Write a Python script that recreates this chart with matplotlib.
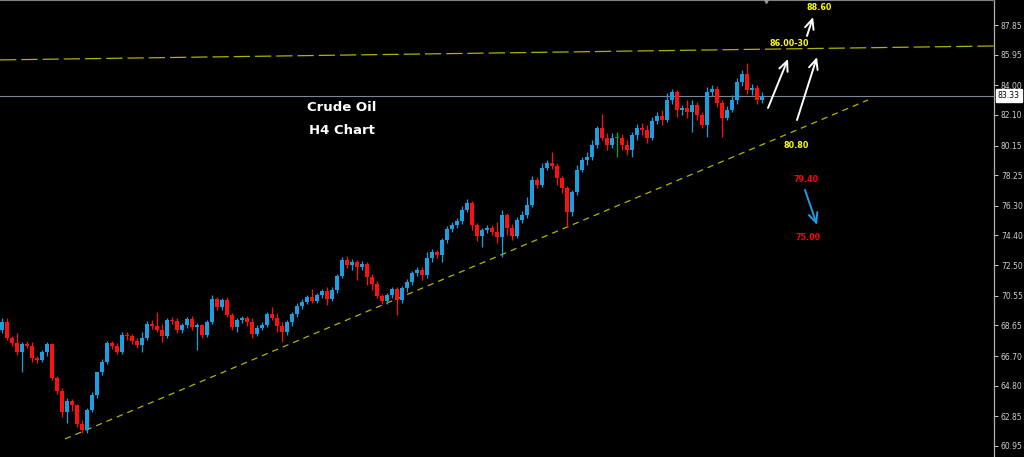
import matplotlib
matplotlib.use("Agg")
import matplotlib.pyplot as plt
import numpy as np

# ---- data: H4 candles (open, high, low, close) ----
opens = [68.36, 68.87, 67.85, 67.53, 66.96, 67.47, 67.34, 66.57, 66.45, 66.96,
         67.47, 65.30, 64.47, 63.12, 63.83, 63.57, 62.36, 61.97, 63.25, 64.21,
         65.68, 66.32, 67.53, 67.34, 66.96, 68.04, 67.98, 67.66, 67.40, 67.85,
         68.75, 68.62, 68.36, 67.98, 69.00, 68.94, 68.36, 68.68, 69.07, 68.56,
         68.68, 68.04, 68.87, 70.34, 69.83, 70.28, 69.32, 68.56, 69.00, 69.13,
         68.87, 68.11, 68.49, 68.68, 69.39, 69.13, 68.62, 68.24, 68.87, 69.39,
         69.90, 70.15, 70.47, 70.22, 70.60, 70.86, 70.34, 70.92, 71.81, 72.84,
         72.52, 72.71, 72.39, 72.58, 71.75, 71.30, 70.54, 70.22, 70.60, 70.98,
         70.28, 71.05, 71.43, 72.00, 72.20, 71.88, 72.96, 73.35, 73.16, 74.11,
         74.82, 75.07, 75.33, 76.03, 76.48, 75.07, 74.37, 74.75, 74.88, 74.63,
         74.31, 75.71, 74.88, 74.37, 75.39, 75.71, 76.35, 77.95, 77.63, 78.71,
         79.03, 78.84, 78.08, 77.44, 75.90, 77.18, 78.59, 79.23, 79.42, 80.18,
         81.27, 80.63, 80.18, 80.63, 80.63, 80.18, 79.87, 80.82, 81.27, 81.14,
         80.63, 81.72, 82.04, 81.78, 83.06, 83.57, 82.42, 82.55, 82.29, 82.74,
         82.10, 81.46, 83.57, 83.76, 82.87, 81.91, 82.42, 83.06, 84.21, 84.72,
         83.70, 83.83, 83.06]
highs = [69.13, 69.13, 67.98, 68.17, 67.60, 67.66, 67.60, 66.70, 67.08, 67.60,
         67.53, 65.42, 64.66, 64.02, 63.95, 63.63, 62.61, 63.38, 64.40, 65.00,
         66.51, 67.66, 67.66, 67.53, 68.24, 68.24, 68.11, 67.85, 68.24, 68.94,
         69.00, 69.51, 68.75, 69.13, 69.19, 69.13, 68.81, 69.19, 69.26, 68.81,
         68.75, 69.00, 70.60, 70.47, 70.41, 70.47, 69.45, 69.13, 69.26, 69.26,
         69.13, 68.68, 68.87, 69.51, 69.83, 69.45, 68.87, 69.00, 69.51, 70.09,
         70.34, 70.60, 70.98, 70.73, 70.98, 71.11, 71.11, 71.94, 73.03, 73.09,
         72.90, 72.84, 72.77, 72.71, 71.94, 71.49, 70.66, 70.73, 71.11, 71.11,
         71.17, 71.62, 72.13, 72.39, 72.39, 73.35, 73.54, 73.47, 74.24, 75.01,
         75.26, 75.52, 76.29, 76.73, 76.61, 75.20, 74.88, 75.07, 75.07, 75.26,
         76.03, 75.84, 75.14, 75.58, 75.97, 76.86, 78.20, 78.14, 79.03, 79.23,
         79.74, 79.03, 78.20, 77.57, 77.31, 78.91, 79.42, 79.74, 80.50, 81.40,
         82.17, 80.95, 80.95, 81.02, 80.89, 80.50, 81.02, 81.53, 81.59, 81.46,
         81.97, 82.29, 82.42, 83.51, 83.76, 83.70, 82.74, 83.06, 83.06, 82.93,
         82.29, 83.89, 84.02, 83.95, 83.06, 82.68, 83.38, 84.47, 84.98, 85.42,
         84.08, 84.02, 83.57]
lows = [68.17, 67.72, 67.34, 66.77, 65.68, 67.21, 66.32, 66.25, 66.32, 66.70,
        65.17, 64.27, 62.80, 62.42, 63.19, 62.16, 61.78, 61.78, 63.12, 64.02,
        65.49, 66.19, 67.15, 66.83, 66.83, 67.72, 67.47, 67.21, 66.96, 67.72,
        68.43, 68.24, 67.60, 67.85, 68.75, 68.17, 68.17, 68.49, 68.36, 67.08,
        67.85, 67.92, 68.75, 69.64, 69.64, 69.19, 68.36, 68.24, 68.81, 68.62,
        67.85, 67.98, 68.36, 68.56, 69.00, 68.24, 67.60, 68.04, 68.62, 69.19,
        69.70, 70.02, 70.09, 70.09, 70.41, 69.96, 70.22, 70.73, 71.69, 72.32,
        72.20, 71.56, 72.20, 71.24, 70.92, 70.41, 70.02, 70.02, 70.41, 69.32,
        70.09, 70.79, 71.24, 71.81, 71.56, 71.69, 72.71, 72.96, 72.71, 73.92,
        74.63, 74.88, 75.14, 75.90, 74.75, 74.05, 73.67, 74.56, 74.43, 73.92,
        73.03, 74.43, 74.11, 74.24, 75.20, 75.52, 76.22, 77.44, 77.50, 78.59,
        78.65, 77.63, 77.12, 74.94, 75.65, 76.99, 78.46, 78.91, 79.23, 79.99,
        80.50, 79.87, 79.99, 79.42, 79.87, 79.55, 79.42, 80.50, 80.82, 80.31,
        80.50, 81.53, 81.46, 81.65, 82.80, 81.97, 82.10, 81.91, 81.02, 81.78,
        81.27, 80.70, 83.32, 82.61, 80.70, 81.78, 82.29, 82.80, 83.95, 83.44,
        83.38, 82.80, 82.87]
closes = [68.87, 67.85, 67.53, 66.96, 67.47, 67.34, 66.57, 66.45, 66.96, 67.47,
          65.30, 64.47, 63.12, 63.83, 63.57, 62.36, 61.97, 63.25, 64.21, 65.68,
          66.32, 67.53, 67.34, 66.96, 68.04, 67.98, 67.66, 67.40, 67.85, 68.75,
          68.62, 68.36, 67.98, 69.00, 68.94, 68.36, 68.68, 69.07, 68.56, 68.68,
          68.04, 68.87, 70.34, 69.83, 70.28, 69.32, 68.56, 69.00, 69.13, 68.87,
          68.11, 68.49, 68.68, 69.39, 69.13, 68.62, 68.24, 68.87, 69.39, 69.90,
          70.15, 70.47, 70.22, 70.60, 70.86, 70.34, 70.92, 71.81, 72.84, 72.52,
          72.71, 72.39, 72.58, 71.75, 71.30, 70.54, 70.22, 70.60, 70.98, 70.28,
          71.05, 71.43, 72.00, 72.20, 71.88, 72.96, 73.35, 73.16, 74.11, 74.82,
          75.07, 75.33, 76.03, 76.48, 75.07, 74.37, 74.75, 74.88, 74.63, 74.31,
          75.71, 74.88, 74.37, 75.39, 75.71, 76.35, 77.95, 77.63, 78.71, 79.03,
          78.84, 78.08, 77.44, 75.90, 77.18, 78.59, 79.23, 79.42, 80.18, 81.27,
          80.63, 80.18, 80.63, 80.63, 80.18, 79.87, 80.82, 81.27, 81.14, 80.63,
          81.72, 82.04, 81.78, 83.06, 83.57, 82.42, 82.55, 82.29, 82.74, 82.10,
          81.46, 83.57, 83.76, 82.87, 81.91, 82.42, 83.06, 84.21, 84.72, 83.70,
          83.83, 83.06, 83.33]

price_ticks = [60.95, 62.85, 64.80, 66.70, 68.65, 70.55, 72.50, 74.40, 76.30,
               78.25, 80.15, 82.10, 84.00, 85.95, 87.85]
current_price = 83.33

# trend lines (bar index, price)
support_x = [12.6, 173.2]
support_y = [61.40, 83.06]
resist_x = [-0.4, 198.4]
resist_y = [85.62, 86.51]

# annotations
labels = ["88.60", "86.00-30", "80.80", "79.40", "75.00"]
label_x = [163.4, 157.4, 158.8, 160.8, 161.2]
label_y = [89.00, 86.64, 80.12, 77.95, 74.30]
label_colors = ["#ffff00", "#ffff00", "#ffff00", "#ff0000", "#ff0000"]

up_arrows_from = [(153.2, 82.55), (159.0, 81.78), (161.0, 87.15)]
up_arrows_to = [(157.2, 85.68), (163.0, 85.80), (162.2, 88.36)]
down_arrow_from = (160.6, 77.31)
down_arrow_to = (163.0, 75.07)

# ---- figure ----
W, H = 1024, 457
fig = plt.figure(figsize=(W / 100, H / 100), dpi=100, facecolor="black")
ax = fig.add_axes([0, 0, 994 / W, 1.0], facecolor="black")

UP = "#1c9ee0"
DN = "#ff1010"
DOJI = "#00b000"

o = np.array(opens); h = np.array(highs); l = np.array(lows); c = np.array(closes)
x = np.arange(len(o))
cols = []
for oi, ci in zip(o, c):
    if abs(ci - oi) < 0.005:
        cols.append(DOJI)
    elif ci > oi:
        cols.append(UP)
    else:
        cols.append(DN)

ax.vlines(x, l, h, colors=cols, linewidth=0.9, zorder=3)
body_h = np.where(np.abs(c - o) < 0.04, 0.04, c - o)
ax.bar(x, body_h, bottom=o, width=0.72, color=cols, linewidth=0, zorder=4)

# lines
ax.axhline(current_price, color="#7a8796", linewidth=0.8, zorder=2)
ln1, = ax.plot(support_x, support_y, color="#b4b400", linewidth=0.9, zorder=2)
ln1.set_dashes((5, 4))
ln2, = ax.plot(resist_x, resist_y, color="#b0b000", linewidth=0.9, zorder=2)
ln2.set_dashes((13, 4))

# texts
ax.text(68.0, 82.55, "Crude Oil", color="white", fontsize=9.5, fontweight="bold",
        ha="center", va="center", family="DejaVu Sans")
ax.text(68.0, 81.14, "H4 Chart", color="white", fontsize=9.5, fontweight="bold",
        ha="center", va="center", family="DejaVu Sans")
for t, tx, ty, tc in zip(labels, label_x, label_y, label_colors):
    ax.text(tx, ty, t, color=tc, fontsize=5.8, fontweight="bold",
            ha="center", va="center", family="DejaVu Sans", zorder=6)

for (x0, y0), (x1, y1) in zip(up_arrows_from, up_arrows_to):
    ax.annotate("", xy=(x1, y1), xytext=(x0, y0),
                arrowprops=dict(arrowstyle="->,head_length=0.7,head_width=0.32",
                                color="white", lw=1.4, shrinkA=0, shrinkB=0), zorder=6)
ax.annotate("", xy=down_arrow_to, xytext=down_arrow_from,
            arrowprops=dict(arrowstyle="->,head_length=0.7,head_width=0.32",
                            color="#1c9ee0", lw=1.4, shrinkA=0, shrinkB=0), zorder=6)

# axes styling
ax.set_xlim(-0.4, 198.4)
ax.set_ylim(60.247, 89.4475)
ax.set_xticks([])
ax.yaxis.tick_right()
ax.set_yticks(price_ticks)
ax.set_yticklabels([f"{v:.2f}" for v in price_ticks])
ax.tick_params(axis="y", colors="#c8c8c8", labelsize=5.5, length=3, width=0.7, pad=2,
               labelcolor="#d0d0d0")
for s in ["left", "bottom"]:
    ax.spines[s].set_visible(False)
ax.spines["right"].set_color("#b0b0b0")
ax.spines["right"].set_linewidth(0.9)
ax.spines["top"].set_color("#808080")
ax.spines["top"].set_linewidth(0.8)

# current price tag
ax.text(1.004, current_price, f"{current_price:.2f}", transform=ax.get_yaxis_transform(),
        color="black", fontsize=5.6, ha="left", va="center", clip_on=False, zorder=7,
        bbox=dict(boxstyle="square,pad=0.25", facecolor="white", edgecolor="white"))

# shift marker at top
ax.plot([766 / 994], [1.0], marker="v", color="#9a9a9a", markersize=5,
        transform=ax.transAxes, clip_on=False, zorder=7)

fig.savefig("out.png", dpi=100, facecolor="black")
